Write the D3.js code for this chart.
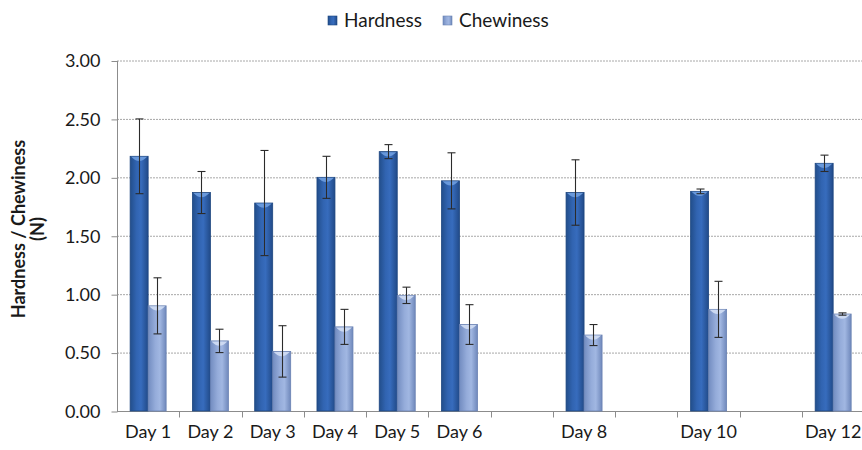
<!DOCTYPE html>
<html>
<head>
<meta charset="utf-8">
<script src="https://cdn.jsdelivr.net/npm/d3@7"></script>
<style>
  body { margin: 0; background: #fff; }
  svg { display: block; font-family: Lato, "Open Sans", sans-serif; }
</style>
</head>
<body>
<svg width="862" height="450"></svg>
<script>
// data
var days = ["Day 1", "Day 2", "Day 3", "Day 4", "Day 5", "Day 6", "Day 7", "Day 8", "Day 9", "Day 10", "Day 11", "Day 12"];
var shownLabels = ["Day 1", "Day 2", "Day 3", "Day 4", "Day 5", "Day 6", "Day 8", "Day 10", "Day 12"];
var series = ["Hardness", "Chewiness"];
var hardness = [2.18, 1.87, 1.78, 2.00, 2.22, 1.97, null, 1.87, null, 1.88, null, 2.12];
var hardnessErr = [0.32, 0.18, 0.45, 0.18, 0.06, 0.24, null, 0.28, null, 0.02, null, 0.07];
var chewiness = [0.90, 0.60, 0.51, 0.72, 0.99, 0.74, null, 0.65, null, 0.87, null, 0.83];
var chewinessErr = [0.24, 0.10, 0.22, 0.15, 0.07, 0.17, null, 0.09, null, 0.24, null, 0.01];
var yTicks = [0, 0.5, 1, 1.5, 2, 2.5, 3];

var svg = d3.select("svg");

xScale = d3.scaleBand().domain(days).range([117, 864.3]).padding(0);
x1 = d3.scaleBand().domain(series).range([0, xScale.bandwidth()]).paddingInner(0).paddingOuter(0.73);
yScale = d3.scaleLinear().domain([0, 3]).range([411, 60.5]);

// gradients
var defs = svg.append("defs");
function grad(id, stops) {
    var g = defs.append("linearGradient").attr("id", id).attr("x1", "0%").attr("x2", "100%").attr("y1", "0%").attr("y2", "0%");
    stops.forEach(function (s) {
        g.append("stop").attr("offset", s[0]).attr("stop-color", s[1]);
    });
}
grad("gH", [["0%", "#224e8b"], ["35%", "#3164b1"], ["60%", "#376cbd"], ["100%", "#214a88"]]);
grad("gC", [["0%", "#728cc0"], ["40%", "#95acda"], ["65%", "#a1b7e2"], ["100%", "#6f88bb"]]);
var fills = { Hardness: "url(#gH)", Chewiness: "url(#gC)" };
var strokes = { Hardness: "#1d4680", Chewiness: "#6a82b3" };

// gridlines
svg.append("g").selectAll("line.grid").data(yTicks.slice(1)).enter().append("line")
    .attr("class", "grid")
    .attr("x1", 117).attr("x2", 862)
    .attr("y1", function (d) { return yScale(d) + 0.5 })
    .attr("y2", function (d) { return yScale(d) + 0.5 })
    .style("stroke", "#a8a8a8").style("stroke-dasharray", "2,1").style("stroke-width", 1);

// y axis
yAxis = d3.axisLeft(yScale).tickValues(yTicks).tickFormat(d3.format(".2f")).tickSize(6).tickPadding(11);
var yG = svg.append("g").attr("id", "yAxisG").attr("transform", "translate(117.5,0.5)").call(yAxis);
yG.select(".domain").attr("d", "M0," + yScale(3) + "V" + yScale(0)).style("stroke", "#8c8c8c");
yG.selectAll(".tick line").style("stroke", "#8c8c8c");
yG.selectAll(".tick text").style("font-size", "18px").style("fill", "#1a1a1a").style("font-family", "Lato, sans-serif");

// x axis: labels centred, tick marks at the category borders
xAxis = d3.axisBottom(xScale).tickSize(0).tickPadding(14).tickFormat(function (d) {
    return shownLabels.indexOf(d) >= 0 ? d : "";
});
var xG = svg.append("g").attr("id", "xAxisG").attr("transform", "translate(0,411.5)").call(xAxis);
xG.select(".domain").attr("d", "M117,0H862").style("stroke", "#8c8c8c");
xG.selectAll(".tick text").style("font-size", "18px").style("fill", "#1a1a1a").style("font-family", "Lato, sans-serif");
xG.selectAll("line.border").data(days).enter().append("line")
    .attr("class", "border")
    .attr("x1", function (d) { return Math.round(xScale(d) + xScale.bandwidth()) + 0.5 })
    .attr("x2", function (d) { return Math.round(xScale(d) + xScale.bandwidth()) + 0.5 })
    .attr("y1", 0).attr("y2", 6)
    .style("stroke", "#8c8c8c");

// bars
var rows = [];
days.forEach(function (d, i) {
    if (hardness[i] != null) rows.push({ day: d, key: "Hardness", v: hardness[i], e: hardnessErr[i] });
    if (chewiness[i] != null) rows.push({ day: d, key: "Chewiness", v: chewiness[i], e: chewinessErr[i] });
});

var barG = svg.append("g");
barG.selectAll("rect.bar").data(rows).enter().append("rect")
    .attr("class", "bar")
    .attr("x", function (d) { return xScale(d.day) + x1(d.key) })
    .attr("width", x1.bandwidth())
    .attr("y", function (d) { return yScale(d.v) })
    .attr("height", function (d) { return yScale(0) - yScale(d.v) })
    .style("fill", function (d) { return fills[d.key] })
    .style("stroke", function (d) { return strokes[d.key] })
    .style("stroke-width", 0.8);

// light cap on top of each bar
barG.selectAll("path.cap").data(rows).enter().append("path")
    .attr("class", "cap")
    .attr("d", function (d) {
        var x0 = xScale(d.day) + x1(d.key), w = x1.bandwidth(), y0 = yScale(d.v);
        return "M" + (x0 + 1) + "," + (y0 + 0.5) + "L" + (x0 + w - 1) + "," + (y0 + 0.5) +
            "Q" + (x0 + w / 2) + "," + (y0 + 9) + " " + (x0 + 1) + "," + (y0 + 0.5) + "Z";
    })
    .style("fill", function (d) { return d.key == "Hardness" ? "#6f9fe0" : "#d2def4" })
    .style("opacity", 0.9);

// error bars
var errG = svg.append("g").style("stroke", "#2b2b2b").style("stroke-width", 1.1);
rows.forEach(function (d) {
    var cx = Math.round(xScale(d.day) + x1(d.key) + x1.bandwidth() / 2) + 0.5;
    var top = yScale(d.v + d.e), bot = yScale(d.v - d.e);
    errG.append("line").attr("x1", cx).attr("x2", cx).attr("y1", top).attr("y2", bot);
    errG.append("line").attr("x1", cx - 4).attr("x2", cx + 4).attr("y1", top).attr("y2", top);
    errG.append("line").attr("x1", cx - 4).attr("x2", cx + 4).attr("y1", bot).attr("y2", bot);
});

// y title
var title = svg.append("text")
    .attr("transform", "translate(25,229) rotate(-90)")
    .attr("text-anchor", "middle")
    .style("font-size", "18px").style("font-weight", "bold").style("fill", "#1a1a1a");
title.append("tspan").attr("x", 0).attr("dy", 0).text("Hardness / Chewiness");
title.append("tspan").attr("x", 0).attr("dy", 19).text("(N)");

// legend
var legend = svg.append("g").attr("transform", "translate(328,0)");
var legX = [0, 115];
series.forEach(function (s, i) {
    var g = legend.append("g").attr("transform", "translate(" + legX[i] + ",0)");
    g.append("rect").attr("x", 0).attr("y", 16).attr("width", 9).attr("height", 9)
        .style("fill", fills[s]).style("stroke", strokes[s]).style("stroke-width", 0.6);
    g.append("text").attr("x", 16).attr("y", 27).text(s)
        .style("font-size", "19px").style("fill", "#1a1a1a");
});
</script>
</body>
</html>
